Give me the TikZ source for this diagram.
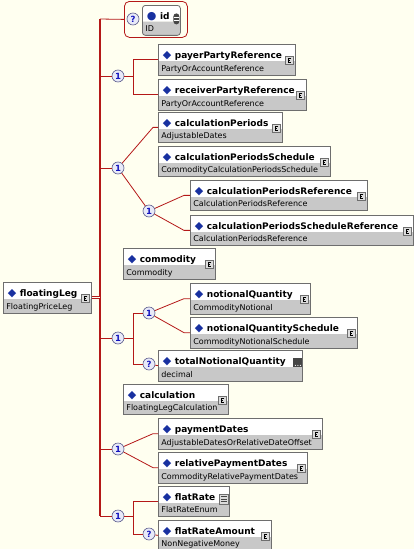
\documentclass[tikz,border=0pt]{standalone}
\usepackage{fontspec}
\setmainfont{DejaVu Sans}
\usepackage{xcolor}
\usepackage{tikz}
\usetikzlibrary{shapes.multipart}

\definecolor{bgcream}{RGB}{255,255,240}
\definecolor{linkred}{RGB}{180,24,24}
\definecolor{boxline}{RGB}{110,110,110}
\definecolor{typegrey}{RGB}{200,200,200}
\definecolor{icongrey}{RGB}{220,220,220}
\definecolor{icondark}{RGB}{70,70,70}
\definecolor{diablue}{RGB}{24,48,160}
\definecolor{compblue}{RGB}{20,20,190}
\definecolor{compline}{RGB}{90,90,140}
\definecolor{compfill}{RGB}{232,234,248}

\newcommand{\ttl}[2][◆]{\rule[-1pt]{0pt}{15pt}\hspace{1.5pt}{\color{diablue}\fontsize{11}{11}\selectfont #1}\hspace{3.5pt}{\fontsize{9}{10}\selectfont\bfseries #2}}
\newcommand{\typ}[1]{\rule[-3pt]{0pt}{13pt}{\fontsize{8}{9}\selectfont #1}}

\begin{document}
\begin{tikzpicture}[
  x=1pt, y=-1pt,
  link/.style={draw=linkred, line width=0.8pt},
  spinelink/.style={draw=linkred, line width=1.4pt},
  elem/.style={rectangle split, rectangle split parts=2, rectangle split draw splits=false,
               rectangle split part fill={white,typegrey}, draw=boxline, line width=0.8pt,
               anchor=north west, inner xsep=3pt, inner ysep=0pt, text width=#1, align=left},
  comp/.style={circle, draw=compline, fill=compfill, line width=0.6pt, inner sep=0pt,
               minimum size=12pt, text=compblue, font=\fontsize{8.5}{8.5}\selectfont\bfseries},
  attgrp/.style={draw=linkred, rounded corners=5pt, line width=0.8pt, anchor=north west,
                 inner sep=0pt},
  ctype/.style={path picture={
      \coordinate (ic) at ([xshift=-10pt,yshift=-12pt]path picture bounding box.north east);
      \draw[boxline, fill=icongrey, line width=0.5pt] (ic) rectangle ++(8pt,-8pt);
      \draw[black, line width=0.5pt] ([shift={(6pt,-2pt)}]ic) -- ++(-3pt,0) -- ++(0,-4pt) -- ++(3pt,0)
           ([shift={(3pt,-4pt)}]ic) -- ++(2pt,0);}},
  stype/.style={path picture={
      \coordinate (ic) at ([xshift=-9pt,yshift=-8pt]path picture bounding box.north east);
      \fill[icondark] (ic) rectangle ++(9pt,-9pt);
      \foreach \d in {2,4.5,7} \fill[white] ([shift={(\d pt,-7pt)}]ic) circle (0.6pt);}},
  etype/.style={path picture={
      \coordinate (ic) at ([xshift=-10pt,yshift=-8pt]path picture bounding box.north east);
      \draw[boxline, fill=icongrey, line width=0.5pt] (ic) rectangle ++(9pt,-10pt);
      \foreach \d in {2.5,5,7.5} \draw[icondark, line width=0.9pt] ([shift={(1.5pt,-\d pt)}]ic) -- ++(6pt,0);}},
  atype/.style={path picture={
      \coordinate (ic) at ([xshift=-7pt,yshift=-8pt]path picture bounding box.north east);
      \fill[icondark] (ic) rectangle ++(6pt,-11pt);
      \foreach \d in {4,7} \draw[white, line width=0.8pt] ([shift={(0.5pt,-\d pt)}]ic) -- ++(5pt,0);}}
]
\fill[bgcream] (0,0) rectangle (414,549);
\useasboundingbox (0,0) rectangle (414,549);

\coordinate (spine) at (100,19);
\coordinate (spineEnd) at (100,516);
\coordinate (jA) at (133,76);
\coordinate (jB) at (133,338);
\coordinate (jC) at (133,516);

\node[elem=82pt, ctype] (leg) at (3,282) {\ttl{floatingLeg}\nodepart{two}\typ{FloatingPriceLeg}};

\node[attgrp, minimum width=63pt, minimum height=36pt] (idgrp) at (124,1) {};
\node[comp] (qid) at (133,19) {?};
\node[elem=32pt, atype, rounded corners=3pt] (id) at (142,5) {\ttl[●]{id}\nodepart{two}\typ{ID}};

\node[comp] (seqA) at (118,76) {1};
\node[elem=131pt, ctype] (payer) at (158,44) {\ttl{payerPartyReference}\nodepart{two}\typ{PartyOrAccountReference}};
\node[elem=142pt, ctype] (receiver) at (158,79) {\ttl{receiverPartyReference}\nodepart{two}\typ{PartyOrAccountReference}};

\node[comp] (choA) at (118,168) {1};
\node[elem=118pt, ctype] (calcPer) at (158,112) {\ttl{calculationPeriods}\nodepart{two}\typ{AdjustableDates}};
\node[elem=166pt, ctype] (calcSched) at (158,146) {\ttl{calculationPeriodsSchedule}\nodepart{two}\typ{CommodityCalculationPeriodsSchedule}};
\node[comp] (choB) at (149,211) {1};
\node[elem=171pt, ctype] (calcRef) at (190,180) {\ttl{calculationPeriodsReference}\nodepart{two}\typ{CalculationPeriodsReference}};
\node[elem=217pt, ctype] (calcSchedRef) at (190,215) {\ttl{calculationPeriodsScheduleReference}\nodepart{two}\typ{CalculationPeriodsReference}};

\node[elem=86pt, ctype] (commodity) at (123,248) {\ttl{commodity}\nodepart{two}\typ{Commodity}};

\node[comp] (seqB) at (118,338) {1};
\node[comp] (choC) at (149,313) {1};
\node[elem=114pt, ctype] (notional) at (190,283) {\ttl{notionalQuantity}\nodepart{two}\typ{CommodityNotional}};
\node[elem=161pt, ctype] (notionalSched) at (190,317) {\ttl{notionalQuantitySchedule}\nodepart{two}\typ{CommodityNotionalSchedule}};
\node[comp] (optT) at (149,364) {?};
\node[elem=138pt, stype] (total) at (158,350) {\ttl{totalNotionalQuantity}\nodepart{two}\typ{decimal}};

\node[elem=99pt, ctype] (calculation) at (123,384) {\ttl{calculation}\nodepart{two}\typ{FloatingLegCalculation}};

\node[comp] (choD) at (118,449) {1};
\node[elem=158pt, ctype] (payment) at (158,418) {\ttl{paymentDates}\nodepart{two}\typ{AdjustableDatesOrRelativeDateOffset}};
\node[elem=143pt, ctype] (relPayment) at (158,452) {\ttl{relativePaymentDates}\nodepart{two}\typ{CommodityRelativePaymentDates}};

\node[comp] (seqC) at (118,516) {1};
\node[elem=65pt, etype] (flatRate) at (158,486) {\ttl{flatRate}\nodepart{two}\typ{FlatRateEnum}};
\node[comp] (optF) at (149,534) {?};
\node[elem=107pt, ctype] (flatAmount) at (158,520) {\ttl{flatRateAmount}\nodepart{two}\typ{NonNegativeMoney}};

\draw[spinelink] (spine) -- (spineEnd);
\draw[link] (spine) -- (idgrp.west);
\draw[link, double=bgcream, double distance=1.6pt] (leg.east) -- (leg.east -| spine);
\draw[link] (seqA.west -| spine) -- (seqA);
\draw[link] (seqA) -- (jA) |- (payer.west);
\draw[link] (jA) |- (receiver.west);
\draw[link] (choA.west -| spine) -- (choA);
\draw[link] (choA) -- ([xshift=-5pt]calcPer.west) -- (calcPer.west);
\draw[link] (choA) -- (choB);
\draw[link] (choB) -- ([xshift=-6pt]calcRef.west) -- (calcRef.west);
\draw[link] (choB) -- ([xshift=-6pt]calcSchedRef.west) -- (calcSchedRef.west);
\draw[link] (seqB.west -| spine) -- (seqB);
\draw[link] (seqB) -- (jB) |- (choC);
\draw[link] (jB) |- (optT);
\draw[link] (choC) -- ([xshift=-6pt]notional.west) -- (notional.west);
\draw[link] (choC) -- ([xshift=-6pt]notionalSched.west) -- (notionalSched.west);
\draw[link] (optT) -- (total.west);
\draw[link] (choD.west -| spine) -- (choD);
\draw[link] (choD) -- ([xshift=-5pt]payment.west) -- (payment.west);
\draw[link] (choD) -- ([xshift=-5pt]relPayment.west) -- (relPayment.west);
\draw[link] (spineEnd) -- (seqC);
\draw[link] (seqC) -- (jC) |- (flatRate.west);
\draw[link] (jC) |- (optF);
\draw[link] (optF) -- (flatAmount.west);
\end{tikzpicture}
\end{document}
